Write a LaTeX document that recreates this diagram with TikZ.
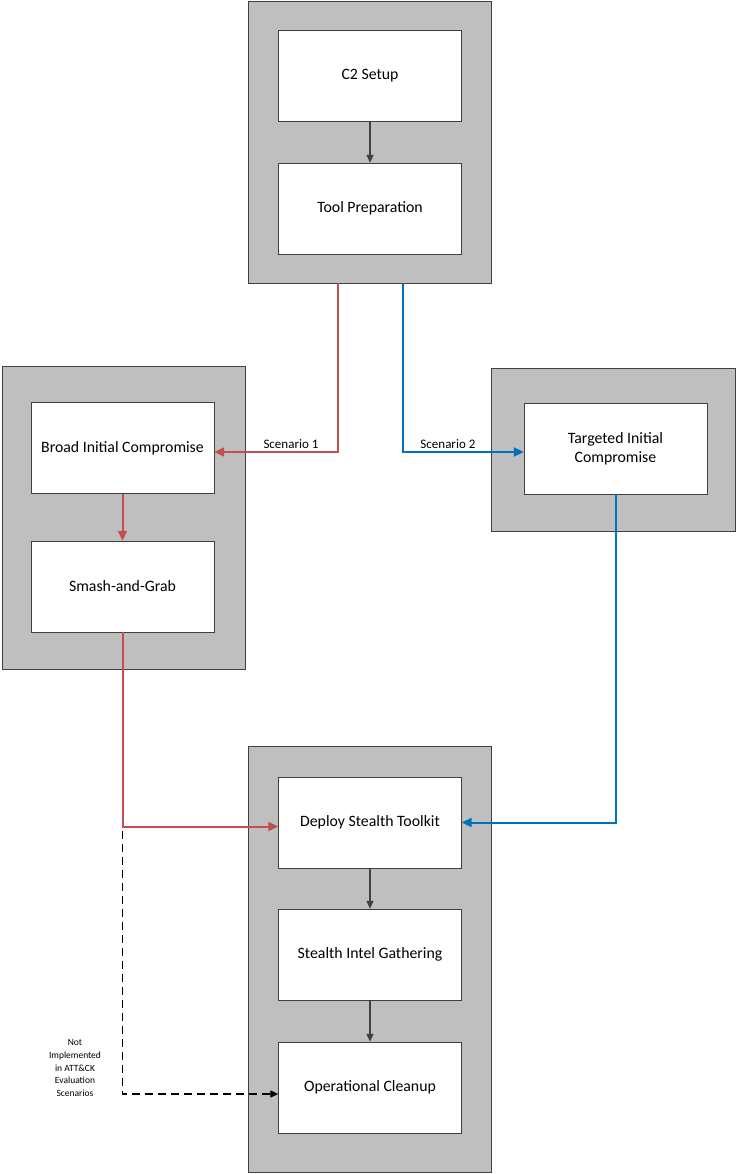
\documentclass[tikz,border=0pt]{standalone}
\usepackage{fontspec}
\setmainfont{Carlito}
\usepackage{xcolor}
\definecolor{stagegray}{RGB}{191,191,191}
\definecolor{edgegray}{RGB}{64,64,64}
\definecolor{scenariored}{RGB}{192,80,77}
\definecolor{scenarioblue}{RGB}{0,112,192}
\usepackage{tikz}
\usetikzlibrary{arrows.meta}
\newcommand{\widthtask}{183pt}
\newcommand{\heighttask}{91pt}
\newcommand{\widthstage}{243pt}
\tikzset{
    common/.style={draw=edgegray, rectangle, inner sep=0pt},
    stage/.style={common, fill=stagegray, minimum width=\widthstage},
    task/.style={common, fill=white, minimum width=\widthtask, minimum height=\heighttask,
        align=center, font=\fontsize{15.8}{19}\selectfont},
    flow/.style={-{Triangle[length=8pt, width=7pt]}, line width=1.3pt, edgegray},
    scenario/.style={above, inner sep=2pt, text=black, font=\fontsize{13}{15}\selectfont},
    scenario-1/.style={-{Triangle[length=10pt, width=9pt]}, line width=2pt, scenariored},
    scenario-2/.style={-{Triangle[length=10pt, width=9pt]}, line width=2pt, scenarioblue},
    skipped/.style={flow, black, dash pattern=on 8pt off 5pt},
    note/.style={align=center, inner sep=0pt, font=\fontsize{9.5}{12.7}\selectfont}
}
\begin{document}
\begin{tikzpicture}[x=1pt, y=1pt]
    \useasboundingbox (0,0) rectangle (736,-1174);

    % grey stages behind the tasks
    \node[stage, minimum height=282pt] (prep-stage) at (369.5,-142) {};
    \node[stage, minimum height=303pt] (broad-stage) at (123.5,-517.5) {};
    \node[stage, minimum width=244pt, minimum height=163pt] (targeted-stage) at (613,-449.5) {};
    \node[stage, minimum height=426pt] (stealth-stage) at (369.5,-959) {};

    \path
        (370,-75.5) node[task] (c2) {C2 Setup}
        to ++(0,-133) node[task] (tool) {Tool Preparation};
    \path
        (122.5,-448) node[task] (broad) {Broad Initial Compromise}
        to ++(0,-138.5) node[task] (smash) {Smash-and-Grab};
    \path
        (615.5,-448.5) node[task] (targeted) {Targeted Initial\\Compromise};
    \path
        (370,-822.5) node[task] (deploy) {Deploy Stealth Toolkit}
        to ++(0,-132) node[task] (intel) {Stealth Intel Gathering}
        to ++(0,-133) node[task] (cleanup) {Operational Cleanup};

    \coordinate (split-red) at (338,-283);
    \coordinate (split-blue) at (403,-283);
    \coordinate (fork) at (122.5,-826.5);

    \draw[flow] (c2) -- (tool);
    \draw[flow] (deploy) -- (intel);
    \draw[flow] (intel) -- (cleanup);

    \draw[scenario-1] (split-red) |- node[scenario, pos=0.69] {Scenario 1} ([yshift=-4pt]broad.east);
    \draw[scenario-1] (broad) -- (smash);
    \draw[scenario-1] (smash) -- (fork) -- ([yshift=-4pt]deploy.west);
    \draw[scenario-2] (split-blue) |- node[scenario, pos=0.686] {Scenario 2} ([yshift=-3.5pt]targeted.west);
    \draw[scenario-2] (targeted) |- (deploy);

    \draw[skipped] ([yshift=-4pt]fork) |- ([yshift=-6.5pt]cleanup.west);
    \node[note] (skipped-note) at (75,-1068) {Not\\Implemented\\in ATT\&CK\\Evaluation\\Scenarios};
\end{tikzpicture}
\end{document}
